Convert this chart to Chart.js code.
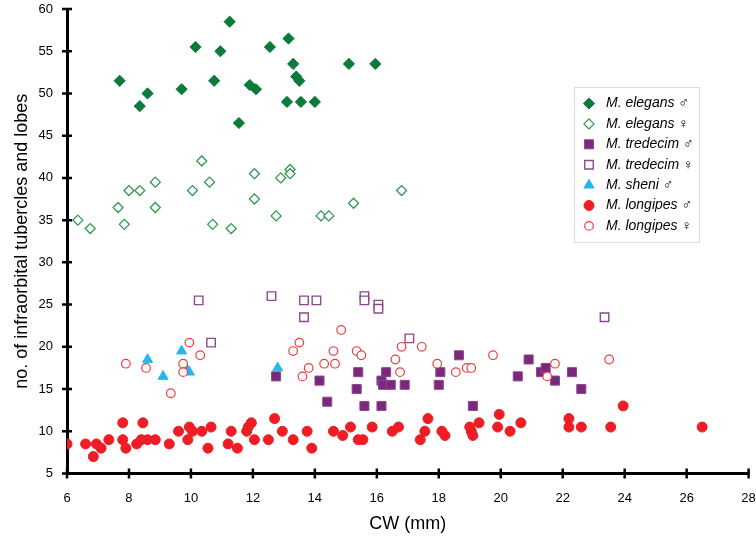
<!DOCTYPE html>
<html>
<head>
<meta charset="utf-8">
<script src="https://cdn.jsdelivr.net/npm/chart.js@4"></script>
<style>
  body { margin: 0; background: #ffffff; }
  canvas { display: block; }
</style>
</head>
<body>
<canvas id="chart" width="756" height="545"></canvas>
<script>
// CW (mm) vs number of infraorbital tubercles and lobes
const elegansMale = [
  [7.7, 51.5], [8.35, 48.5], [8.6, 50], [9.7, 50.5], [10.15, 55.5], [10.75, 51.5],
  [10.95, 55], [11.25, 58.5], [11.55, 46.5], [11.9, 51], [12.1, 50.5], [12.55, 55.5],
  [13.1, 49], [13.15, 56.5], [13.3, 53.5], [13.4, 52], [13.5, 51.5], [13.55, 49],
  [14.0, 49], [15.1, 53.5], [15.95, 53.5],
];
const elegansFemale = [
  [6.35, 35], [6.75, 34], [7.65, 36.5], [7.85, 34.5], [8.0, 38.5], [8.35, 38.5],
  [8.85, 39.5], [8.85, 36.5], [10.05, 38.5], [10.35, 42], [10.6, 39.5], [10.7, 34.5],
  [11.3, 34], [12.05, 40.5], [12.05, 37.5], [12.75, 35.5], [12.9, 40], [13.2, 41],
  [13.2, 40.5], [14.2, 35.5], [14.45, 35.5], [15.25, 37], [16.8, 38.5],
];
const tredecimMale = [
  [12.75, 16.5], [14.15, 16], [14.4, 13.5], [15.4, 17], [15.35, 15], [15.6, 13],
  [16.3, 17], [16.15, 16], [16.2, 15.5], [16.45, 15.5], [16.15, 13], [16.9, 15.5],
  [18.0, 15.5], [18.05, 17], [18.65, 19], [19.1, 13], [20.55, 16.5], [20.9, 18.5],
  [21.3, 17], [21.45, 17.5], [21.75, 16], [22.3, 17], [22.6, 15],
];
const tredecimFemale = [
  [10.25, 25.5], [10.65, 20.5], [12.6, 26], [13.65, 25.5], [14.05, 25.5], [13.65, 23.5],
  [15.6, 26], [15.6, 25.5], [16.05, 25], [16.05, 24.5], [17.05, 21], [23.35, 23.5],
];
const sheniMale = [
  [8.6, 18.5], [9.1, 16.5], [9.7, 19.5], [9.85, 17.5], [9.95, 17], [12.8, 17.5],
];
const longipesMale = [
  [6.0, 8.5], [6.6, 8.5], [6.85, 7], [6.95, 8.5], [7.1, 8], [7.35, 9], [7.8, 11],
  [7.8, 9], [7.9, 8], [8.25, 8.5], [8.45, 11], [8.4, 9], [8.6, 9], [8.85, 9],
  [9.3, 8.5], [9.6, 10], [9.95, 10.5], [9.9, 9], [10.05, 10], [10.35, 10], [10.55, 8],
  [10.65, 10.5], [11.2, 8.5], [11.3, 10], [11.5, 8], [11.8, 10], [11.85, 10.5],
  [11.95, 11], [12.05, 9], [12.5, 9], [12.7, 11.5], [12.95, 10], [13.3, 9],
  [13.75, 10], [13.9, 8], [14.6, 10], [14.9, 9.5], [15.15, 10.5], [15.4, 9],
  [15.55, 9], [15.85, 10.5], [16.5, 10], [16.7, 10.5], [17.4, 9], [17.55, 10],
  [17.65, 11.5], [18.1, 10], [18.2, 9.5], [19.0, 10.5], [19.05, 10], [19.1, 9.5],
  [19.3, 11], [19.9, 10.5], [19.95, 12], [20.3, 10], [20.65, 11], [22.2, 11.5],
  [22.2, 10.5], [22.6, 10.5], [23.55, 10.5], [23.95, 13], [26.5, 10.5],
];
const longipesFemale = [
  [7.9, 18], [8.55, 17.5], [9.35, 14.5], [9.75, 18], [9.75, 17], [9.95, 20.5],
  [10.3, 19], [13.3, 19.5], [13.5, 20.5], [13.6, 16.5], [13.8, 17.5], [14.3, 18],
  [14.65, 18], [14.6, 19.5], [14.85, 22], [15.35, 19.5], [15.5, 19], [16.6, 18.5],
  [16.75, 17], [16.8, 20], [17.45, 20], [17.95, 18], [18.55, 17], [18.9, 17.5],
  [19.05, 17.5], [19.75, 19], [21.5, 16.5], [21.75, 18], [23.5, 18.5],
];

const xTitle = "CW (mm)";
const yTitle = "no. of infraorbital tubercles and lobes";

const series = [
  { name: "M. elegans", sex: "\u2642", data: elegansMale, style: "rectRot", radius: 5.6, fill: "#0b7a3b", stroke: "#0b7a3b", width: 1 },
  { name: "M. elegans", sex: "\u2640", data: elegansFemale, style: "rectRot", radius: 5.0, fill: "#ffffff", stroke: "#2f9a55", width: 1.3 },
  { name: "M. tredecim", sex: "\u2642", data: tredecimMale, style: "rect", radius: 6.4, fill: "#7a287c", stroke: "#8c4a8e", width: 1 },
  { name: "M. tredecim", sex: "\u2640", data: tredecimFemale, style: "rect", radius: 6.0, fill: "#ffffff", stroke: "#8a4a8c", width: 1.4 },
  { name: "M. sheni", sex: "\u2642", data: sheniMale, style: "triangle", radius: 5.8, fill: "#27b7ee", stroke: "#27b7ee", width: 1 },
  { name: "M. longipes", sex: "\u2642", data: longipesMale, style: "circle", radius: 5, fill: "#ee1d25", stroke: "#ee1d25", width: 1 },
  { name: "M. longipes", sex: "\u2640", data: longipesFemale, style: "circle", radius: 4.3, fill: "#ffffff", stroke: "#f03c3c", width: 1.2 },
];

const FONT = "'Liberation Sans', Arial, Helvetica, sans-serif";
Chart.defaults.font.family = FONT;
Chart.defaults.color = "#000000";

// tick marks that cross the axis line, placed through the scales
const crossTicks = {
  id: "crossTicks",
  afterDraw(chart) {
    const { ctx } = chart;
    const x = chart.scales.x;
    const y = chart.scales.y;
    ctx.save();
    ctx.strokeStyle = "#000000";
    ctx.lineWidth = 2.5;
    ctx.beginPath();
    x.ticks.forEach((t) => {
      const px = x.getPixelForValue(t.value);
      ctx.moveTo(px, x.top - 5);
      ctx.lineTo(px, x.top + 5);
    });
    y.ticks.forEach((t) => {
      const py = y.getPixelForValue(t.value);
      ctx.moveTo(y.right - 5, py);
      ctx.lineTo(y.right + 5, py);
    });
    ctx.stroke();
    ctx.restore();
  },
};

// boxed legend with italic species names and plain sex symbols
const boxLegend = {
  id: "boxLegend",
  afterDraw(chart) {
    const { ctx } = chart;
    const left = 574.5;
    const top = 87.5;
    ctx.save();
    ctx.fillStyle = "#ffffff";
    ctx.strokeStyle = "#dcdcdc";
    ctx.lineWidth = 1;
    ctx.fillRect(left, top, 125, 155);
    ctx.strokeRect(left, top, 125, 155);
    series.forEach((s, i) => {
      const rowY = 103.5 + i * 20.4;
      ctx.fillStyle = s.fill;
      ctx.strokeStyle = s.stroke;
      ctx.lineWidth = s.width;
      Chart.helpers.drawPoint(ctx, { pointStyle: s.style, radius: s.radius, borderWidth: s.width, rotation: 0 }, 589, rowY);
      ctx.fillStyle = "#000000";
      ctx.textBaseline = "middle";
      ctx.textAlign = "left";
      ctx.font = "italic 14px " + FONT;
      ctx.fillText(s.name, 606, rowY);
      const w = ctx.measureText(s.name + " ").width;
      ctx.font = "14px " + FONT;
      ctx.fillText(s.sex, 606 + w, rowY);
    });
    ctx.restore();
  },
};

const datasets = series.map((s, i) => ({
  label: s.name + " " + s.sex,
  data: s.data.map(([cw, n]) => ({ x: cw, y: n })),
  pointStyle: s.style,
  pointRadius: s.radius,
  pointHoverRadius: s.radius,
  pointBackgroundColor: s.fill,
  pointBorderColor: s.stroke,
  pointBorderWidth: s.width,
  showLine: false,
  order: series.length - i,
}));

// keep tick-label overflow from shrinking the plot area
function noOverflow(scale) {
  scale.paddingTop = 0;
  scale.paddingBottom = 0;
  scale.paddingLeft = 0;
  scale.paddingRight = 0;
}

new Chart(document.getElementById("chart"), {
  type: "scatter",
  data: { datasets },
  plugins: [crossTicks, boxLegend],
  options: {
    responsive: false,
    animation: false,
    layout: { padding: { top: 9, right: 7, left: 0, bottom: 0 } },
    plugins: {
      legend: { display: false },
      tooltip: { enabled: false },
    },
    scales: {
      x: {
        type: "linear",
        min: 6,
        max: 28,
        grid: { display: false, drawTicks: false },
        border: { display: true, color: "#000000", width: 3 },
        ticks: { stepSize: 2, padding: 17, font: { size: 13 }, color: "#000000" },
        title: { display: true, text: xTitle, font: { size: 18 }, padding: { top: 0, bottom: 10 }, color: "#000000" },
        afterFit(scale) { scale.height = 71.5; noOverflow(scale); },
      },
      y: {
        type: "linear",
        min: 5,
        max: 60,
        grid: { display: false, drawTicks: false },
        border: { display: true, color: "#000000", width: 3 },
        ticks: { stepSize: 5, padding: 14, font: { size: 13 }, color: "#000000" },
        title: { display: true, text: yTitle, font: { size: 18 }, padding: { top: 11, bottom: 0 }, color: "#000000" },
        afterFit(scale) { scale.width = 67; noOverflow(scale); },
      },
    },
  },
});
</script>
</body>
</html>
